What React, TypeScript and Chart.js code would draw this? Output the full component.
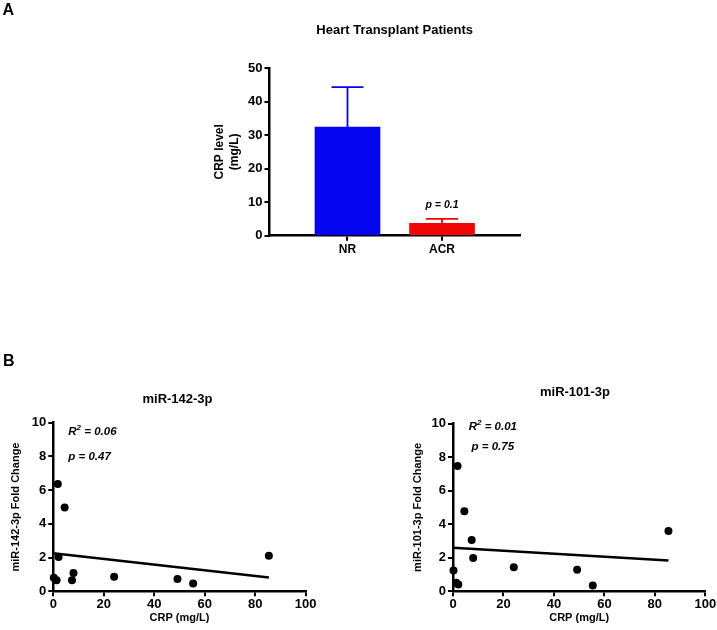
import React, { useEffect, useRef } from 'react';
import { Chart, registerables } from 'chart.js';

Chart.register(...registerables);
Chart.defaults.font.family = '"Liberation Sans", Arial, sans-serif';
Chart.defaults.color = '#000';

// ---- Panel A data ----
const groups = ['NR', 'ACR'];
const crpMean = [32.4, 3.7];
const crpSd = [11.9, 1.3];
const barColors = ['#0505f2', '#f20505'];
const barYMax = 50;
const barYStep = 10;

// ---- Panel B data ----
const crpValues = [0.2, 1.3, 1.8, 2.1, 4.5, 7.4, 8.0, 24.1, 49.2, 55.4, 85.4];
const mir142 = [0.81, 0.66, 6.37, 2.04, 4.97, 0.65, 1.08, 0.86, 0.73, 0.47, 2.11];
const mir101 = [1.24, 0.51, 7.47, 0.4, 4.77, 3.05, 1.98, 1.43, 1.29, 0.34, 3.6];
const fitX = [0, 85.4];
const fit142 = [2.25, 0.82];
const fit101 = [2.6, 1.84];
const scatterXMax = 100;
const scatterXStep = 20;
const scatterYMax = 10;
const scatterYStep = 2;

const FONT = '"Liberation Sans", Arial, sans-serif';

type TextItem = {
  text: string;
  x: number;
  y: number;
  size: number;
  style?: string;
  align?: 'left' | 'center';
  sup?: { base: string; sup: string };
};

function textPlugin(id: string, items: TextItem[]) {
  return {
    id,
    afterDraw(chart: any) {
      const ctx = chart.ctx;
      ctx.save();
      ctx.fillStyle = '#000';
      ctx.textBaseline = 'middle';
      for (const it of items) {
        const style = it.style || 'bold';
        const main = `${style} ${it.size}px ${FONT}`;
        const small = `${style} ${Math.round(it.size * 0.68)}px ${FONT}`;
        if (it.sup) {
          ctx.font = main;
          const wBase = ctx.measureText(it.sup.base).width;
          const wRest = ctx.measureText(it.text).width;
          ctx.font = small;
          const wSup = ctx.measureText(it.sup.sup).width;
          const total = wBase + wSup + wRest;
          let x0 = it.align === 'left' ? it.x : it.x - total / 2;
          ctx.textAlign = 'left';
          ctx.font = main;
          ctx.fillText(it.sup.base, x0, it.y);
          x0 += wBase;
          ctx.font = small;
          ctx.fillText(it.sup.sup, x0, it.y - it.size * 0.33);
          x0 += wSup;
          ctx.font = main;
          ctx.fillText(it.text, x0, it.y);
        } else {
          ctx.font = main;
          ctx.textAlign = it.align || 'center';
          ctx.fillText(it.text, it.x, it.y);
        }
      }
      ctx.restore();
    },
  };
}

const errorBarPlugin = {
  id: 'errorBars',
  afterDatasetsDraw(chart: any) {
    const { ctx } = chart;
    const x = chart.scales.x;
    const y = chart.scales.y;
    ctx.save();
    ctx.lineWidth = 1.8;
    crpMean.forEach((m, i) => {
      const px = x.getPixelForValue(i + 1);
      const yb = y.getPixelForValue(m);
      const yt = y.getPixelForValue(m + crpSd[i]);
      ctx.strokeStyle = barColors[i];
      ctx.beginPath();
      ctx.moveTo(px, yb);
      ctx.lineTo(px, yt);
      ctx.moveTo(px - 16, yt);
      ctx.lineTo(px + 16, yt);
      ctx.stroke();
    });
    ctx.restore();
  },
};

const axisGrid = {
  display: true,
  drawOnChartArea: false,
  drawTicks: true,
  tickLength: 5,
  color: '#000',
  lineWidth: 2,
  offset: false,
};
const axisBorder = { display: true, color: '#000', width: 2.5 };
const tickFont = { family: FONT, size: 13, weight: 'bold' as const };

function BarPanel() {
  const ref = useRef<HTMLCanvasElement>(null);
  useEffect(() => {
    const chart = new Chart(ref.current!, {
      type: 'bar',
      data: {
        datasets: [
          {
            data: groups.map((_, i) => ({ x: i + 1, y: crpMean[i] })),
            backgroundColor: barColors,
            borderWidth: 0,
            barThickness: 65,
          } as any,
        ],
      },
      options: {
        responsive: false,
        animation: false,
        events: [],
        layout: { padding: { left: 200, top: 68, right: 197, bottom: 0 } },
        plugins: { legend: { display: false }, tooltip: { enabled: false }, title: { display: false } },
        scales: {
          x: {
            type: 'linear',
            min: 0.175,
            max: 2.825,
            offset: false,
            afterBuildTicks: (s: any) => {
              s.ticks = groups.map((_, i) => ({ value: i + 1 }));
            },
            afterFit: (s: any) => {
              s.height = 29.3;
            },
            ticks: {
              font: { family: FONT, size: 12, weight: 'bold' },
              color: '#000',
              padding: 2,
              maxRotation: 0,
              autoSkip: false,
              callback: (v: any) => groups[Math.round(Number(v)) - 1] ?? '',
            },
            grid: axisGrid,
            border: axisBorder,
          } as any,
          y: {
            min: 0,
            max: barYMax,
            afterFit: (s: any) => {
              s.width = 69.5;
            },
            ticks: { stepSize: barYStep, font: tickFont, color: '#000', padding: 2 },
            grid: axisGrid,
            border: axisBorder,
            title: {
              display: true,
              text: ['CRP level', '(mg/L)'],
              font: { family: FONT, size: 12, weight: 'bold' },
              color: '#000',
              padding: { top: 12.8, bottom: 0 },
            },
          } as any,
        },
      },
      plugins: [
        errorBarPlugin,
        textPlugin('barTexts', [
          { text: 'A', x: 2.5, y: 11, size: 16, align: 'left' },
          { text: 'Heart Transplant Patients', x: 394.7, y: 30, size: 13 },
          { text: 'p = 0.1', x: 442, y: 205, size: 10.5, style: 'italic bold' },
        ]),
      ],
    });
    return () => chart.destroy();
  }, []);
  return (
    <canvas
      ref={ref}
      width={717}
      height={265}
      style={{ position: 'absolute', left: 0, top: 0, width: 717, height: 265 }}
    />
  );
}

type ScatterProps = {
  left: number;
  width: number;
  values: number[];
  fit: number[];
  yLabel: string;
  padLeft: number;
  yWidth: number;
  yTitlePad: number;
  padTop: number;
  padRight: number;
  texts: TextItem[];
};

function ScatterPanel(p: ScatterProps) {
  const ref = useRef<HTMLCanvasElement>(null);
  useEffect(() => {
    const chart = new Chart(ref.current!, {
      type: 'scatter',
      data: {
        datasets: [
          {
            type: 'line',
            data: fitX.map((x, i) => ({ x, y: p.fit[i] })),
            borderColor: '#000',
            borderWidth: 2.5,
            pointRadius: 0,
            fill: false,
            clip: false,
          } as any,
          {
            data: crpValues.map((x, i) => ({ x, y: p.values[i] })),
            backgroundColor: '#000',
            borderColor: '#000',
            pointRadius: 4,
            borderWidth: 0,
            clip: false,
          } as any,
        ],
      },
      options: {
        responsive: false,
        animation: false,
        events: [],
        layout: { padding: { left: p.padLeft, top: p.padTop, right: p.padRight, bottom: 0 } },
        plugins: { legend: { display: false }, tooltip: { enabled: false }, title: { display: false } },
        scales: {
          x: {
            type: 'linear',
            min: 0,
            max: scatterXMax,
            afterFit: (s: any) => {
              s.height = 38.7;
            },
            ticks: { stepSize: scatterXStep, font: tickFont, color: '#000', padding: 0, maxRotation: 0 },
            grid: axisGrid,
            border: axisBorder,
            title: {
              display: true,
              text: 'CRP (mg/L)',
              font: { family: FONT, size: 11, weight: 'bold' },
              color: '#000',
              padding: { top: 0, bottom: 5.5 },
            },
          } as any,
          y: {
            type: 'linear',
            min: 0,
            max: scatterYMax,
            afterFit: (s: any) => {
              s.width = p.yWidth;
            },
            ticks: { stepSize: scatterYStep, font: tickFont, color: '#000', padding: 2 },
            grid: axisGrid,
            border: axisBorder,
            title: {
              display: true,
              text: p.yLabel,
              font: { family: FONT, size: 11, weight: 'bold' },
              color: '#000',
              padding: { top: p.yTitlePad, bottom: 0 },
            },
          } as any,
        },
      },
      plugins: [textPlugin('scTexts' + p.left, p.texts)],
    });
    return () => chart.destroy();
  }, []);
  return (
    <canvas
      ref={ref}
      width={p.width}
      height={290}
      style={{ position: 'absolute', left: p.left, top: 340, width: p.width, height: 290 }}
    />
  );
}

export default function App() {
  return (
    <div style={{ position: 'absolute', left: 0, top: 0, width: 717, height: 630, background: '#fff', overflow: 'hidden' }}>
      <BarPanel />
      <ScatterPanel
        left={0}
        width={358}
        values={mir142}
        fit={fit142}
        yLabel="miR-142-3p Fold Change"
        padLeft={0}
        yWidth={53.3}
        yTitlePad={9.4}
        padTop={82.7}
        padRight={52.3}
        texts={[
          { text: 'B', x: 3, y: 21.7, size: 16, align: 'left' },
          { text: 'miR-142-3p', x: 177.5, y: 59, size: 13 },
          { text: ' = 0.06', sup: { base: 'R', sup: '2' }, x: 68.3, y: 92, size: 11.5, style: 'italic bold', align: 'left' },
          { text: 'p = 0.47', x: 68.3, y: 116.7, size: 11.5, style: 'italic bold', align: 'left' },
        ]}
      />
      <ScatterPanel
        left={358}
        width={359}
        values={mir101}
        fit={fit101}
        yLabel="miR-101-3p Fold Change"
        padLeft={42}
        yWidth={53}
        yTitlePad={11.4}
        padTop={83.5}
        padRight={11.7}
        texts={[
          { text: 'miR-101-3p', x: 217, y: 52.7, size: 13 },
          { text: ' = 0.01', sup: { base: 'R', sup: '2' }, x: 134.8, y: 86.5, size: 11.5, style: 'italic bold' },
          { text: 'p = 0.75', x: 134.8, y: 106.7, size: 11.5, style: 'italic bold' },
        ]}
      />
    </div>
  );
}
